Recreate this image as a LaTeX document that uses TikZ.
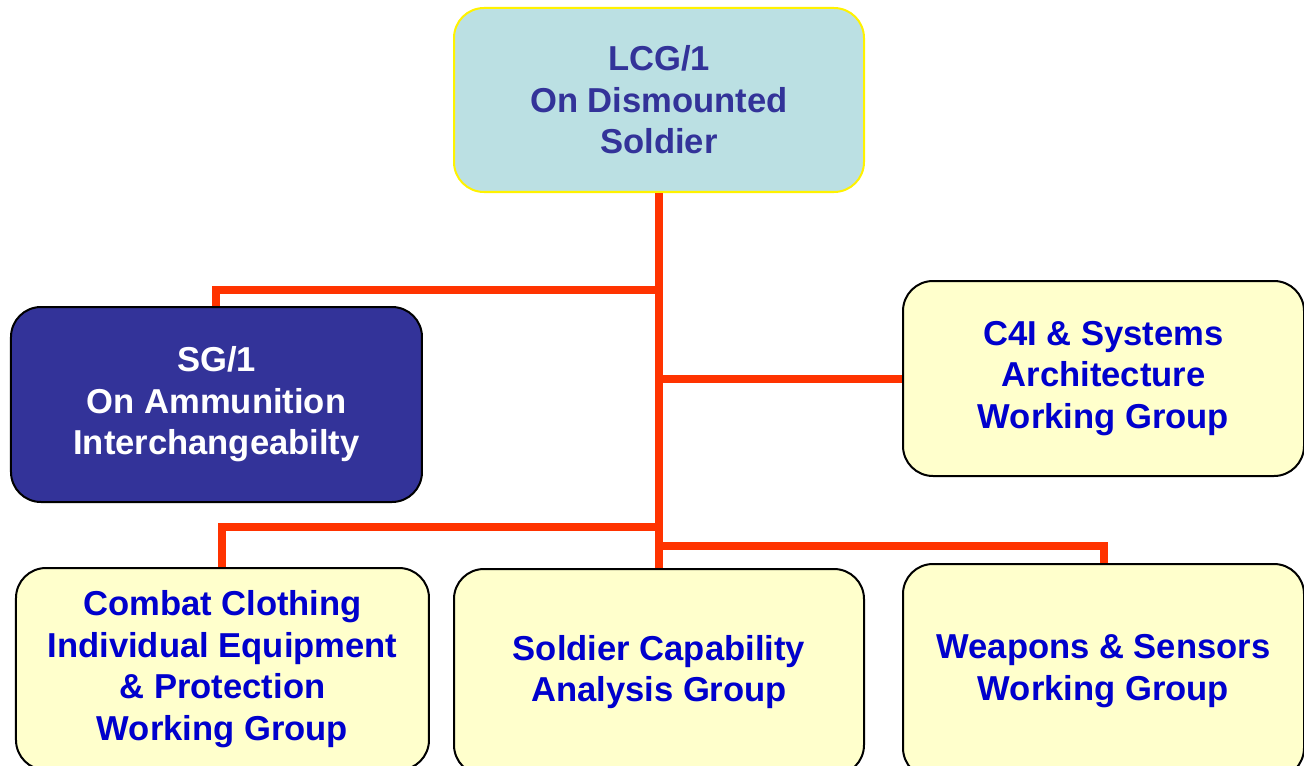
\documentclass[tikz,border=0pt]{standalone}
\usepackage{fontspec}
\setmainfont{Liberation Sans}
\usepackage{tikz}
\usetikzlibrary{positioning}

\definecolor{lcgfill}{HTML}{BBE0E3}
\definecolor{navy}{HTML}{333399}
\definecolor{paleyellow}{HTML}{FFFFCC}
\definecolor{wgblue}{HTML}{0000CC}
\definecolor{linkred}{HTML}{FF3300}

\begin{document}
\begin{tikzpicture}[node distance=100pt, on grid,
    box/.style={draw, line width=1pt, rounded corners=15pt, align=center,
      minimum width=205pt, minimum height=98pt,
      font=\fontsize{17.3}{20.8}\selectfont\bfseries},
    wg/.style={box, fill=paleyellow, text=wgblue},
    link/.style={draw=linkred, line width=4pt}]
   \useasboundingbox (-329.5pt,50pt) rectangle (322.5pt,-332.5pt);

   \node[box, draw=yellow, fill=lcgfill, text=navy, minimum height=92pt] (lcg) at (0,0) {LCG/1\\On Dismounted\\Soldier};
   \node[box, fill=navy, text=white, minimum width=205.5pt, minimum height=97.5pt] (sg) [below left=152.25pt and 221.25pt of lcg] {SG/1\\On Ammunition\\Interchangeabilty};
   \node[wg, minimum width=200.5pt, minimum height=97.5pt] (c4i) [below right=139.25pt and 222.25pt of lcg] {C4I \& Systems\\Architecture\\Working Group};
   \node[wg, minimum height=103pt] (cap) [below=286pt of lcg] {Soldier Capability\\Analysis Group};
   \node[wg, minimum width=206.5pt, minimum height=101pt] (combat) [left=218.25pt of cap, yshift=1.5pt] {Combat Clothing\\Individual Equipment\\\& Protection\\Working Group};
   \node[wg, minimum width=200.5pt, minimum height=107pt] (weapons) [right=222.25pt of cap, yshift=0.5pt] {Weapons \& Sensors\\Working Group};

   % junctions on the trunk
   \coordinate (j1) at ([yshift=-48.5pt]lcg.south);
   \coordinate (j2) at ([yshift=-167pt]lcg.south);
   \coordinate (j3) at ([yshift=-176.5pt]lcg.south);

   \draw[link] (lcg.south) -- (cap.north);
   \draw[link] (sg.north) |- (j1);
   \draw[link] (c4i.west) -- (c4i.west -| lcg.south);
   \draw[link] (combat.north) |- (j2);
   \draw[link] (weapons.north) |- (j3);
\end{tikzpicture}
\end{document}
